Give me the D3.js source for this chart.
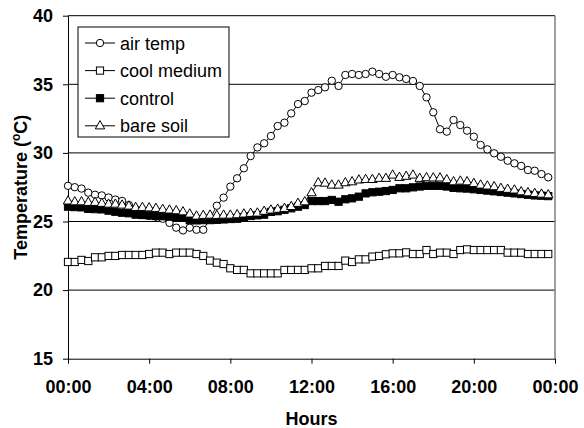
<!DOCTYPE html>
<html>
<head>
<meta charset="utf-8">
<script src="https://cdn.jsdelivr.net/npm/d3@7"></script>
<style>
  body { margin: 0; background: #fff; }
  svg { display: block; font-family: Arial, "Liberation Sans", sans-serif; }
</style>
</head>
<body>
<div id="grafico"></div>
<script>
var seriesNames = ['air temp', 'cool medium', 'control', 'bare soil'];
var stepMinutes = 20;

var airTemp = [27.6, 27.5, 27.4, 27.1, 26.95, 26.9, 26.75, 26.6, 26.5, 26.2,
  25.9, 25.5, 25.4, 25.35, 25.2, 24.9, 24.55, 24.35, 24.55, 24.4,
  24.4, 25.2, 26.15, 26.74, 27.54, 28.15, 28.88, 29.77, 30.4, 30.7,
  31.23, 31.96, 32.2, 32.88, 33.56, 33.78, 34.39, 34.58, 34.78, 35.26,
  34.88, 35.68, 35.75, 35.68, 35.75, 35.92, 35.75, 35.55, 35.68, 35.51,
  35.39, 35.24, 34.88, 34.05, 32.96, 31.72, 31.55, 32.4, 32.03, 31.62,
  31.18, 30.58, 30.26, 29.97, 29.72, 29.43, 29.24, 29.05, 28.75, 28.7,
  28.46, 28.22];

var coolMedium = [22.05, 22.05, 22.2, 22.12, 22.39, 22.39, 22.49, 22.49, 22.56, 22.56,
  22.56, 22.56, 22.63, 22.73, 22.73, 22.63, 22.73, 22.73, 22.73, 22.63,
  22.49, 22.15, 22.0, 21.9, 21.59, 21.47, 21.47, 21.22, 21.22, 21.22,
  21.22, 21.22, 21.47, 21.47, 21.47, 21.47, 21.59, 21.59, 21.76, 21.76,
  21.76, 22.15, 22.05, 22.24, 22.24, 22.44, 22.49, 22.61, 22.68, 22.68,
  22.75, 22.63, 22.63, 22.92, 22.63, 22.73, 22.73, 22.63, 22.92, 22.97,
  22.92, 22.92, 22.92, 22.92, 22.92, 22.73, 22.73, 22.73, 22.63, 22.63,
  22.63, 22.63];

var control = [26.08, 26.05, 26.03, 25.92, 25.9, 25.88, 25.79, 25.71, 25.64, 25.6,
  25.5, 25.47, 25.45, 25.4, 25.38, 25.35, 25.3, 25.28, 25.1, 25.08,
  25.1, 25.1, 25.12, 25.15, 25.18, 25.2, 25.3, 25.4, 25.45, 25.5,
  25.7, 25.75, 25.85, 25.96, 26.08, 26.2, 26.49, 26.49, 26.49, 26.57,
  26.44, 26.62, 26.69, 26.81, 27.05, 27.13, 27.17, 27.22, 27.3, 27.42,
  27.42, 27.49, 27.55, 27.6, 27.6, 27.6, 27.55, 27.45, 27.42, 27.4,
  27.35, 27.3, 27.25, 27.2, 27.15, 27.1, 27.05, 27.0, 26.95, 26.9,
  26.88, 26.85];

var bareSoil = [26.5, 26.44, 26.44, 26.4, 26.4, 26.33, 26.27, 26.27, 26.2, 26.13,
  26.03, 26.03, 26.0, 25.96, 25.89, 25.84, 25.79, 25.71, 25.55, 25.4,
  25.45, 25.47, 25.45, 25.47, 25.47, 25.5, 25.55, 25.6, 25.62, 25.75,
  25.84, 25.9, 25.96, 26.1, 26.33, 26.44, 27.1, 27.83, 27.8, 27.66,
  27.66, 27.83, 27.9, 28.03, 28.07, 28.07, 28.15, 28.15, 28.39, 28.22,
  28.3, 28.39, 28.15, 28.2, 28.18, 28.18, 28.05, 27.9, 27.95, 27.9,
  27.78, 27.66, 27.59, 27.54, 27.42, 27.35, 27.3, 27.17, 27.1, 27.05,
  27.0, 26.95];

var xTickHours = [0, 4, 8, 12, 16, 20, 24];
var xTickLabels = ['00:00', '04:00', '08:00', '12:00', '16:00', '20:00', '00:00'];
var yTicks = [15, 20, 25, 30, 35, 40];
var yGrid = [20, 25, 30, 35];

var svgWidth = 584;
var svgHeight = 428;
var margin = { top: 15.7, right: 29, bottom: 69.3, left: 68 };
var chartWidth = svgWidth - margin.left - margin.right;
var chartHeight = svgHeight - margin.top - margin.bottom;

var svg = d3.select("#grafico")
  .append("svg")
  .attr("width", svgWidth)
  .attr("height", svgHeight);

var xScale = d3.scaleLinear().domain([0, 24]).range([0, chartWidth]);
var yScale = d3.scaleLinear().domain([15, 40]).range([chartHeight, 0]);

var chart = svg.append("g")
  .attr("transform", "translate(" + margin.left + "," + margin.top + ")");

// grid lines
chart.selectAll(".grid")
  .data(yGrid)
  .enter()
  .append("line")
  .attr("x1", 0)
  .attr("x2", chartWidth)
  .attr("y1", d => yScale(d))
  .attr("y2", d => yScale(d))
  .attr("stroke", "#000")
  .attr("stroke-width", 1);

// top and right border
chart.append("line")
  .attr("x1", 0).attr("x2", chartWidth)
  .attr("y1", yScale(40)).attr("y2", yScale(40))
  .attr("stroke", "#000");
chart.append("line")
  .attr("x1", chartWidth).attr("x2", chartWidth)
  .attr("y1", 0).attr("y2", chartHeight)
  .attr("stroke", "#808080")
  .attr("stroke-width", 1.5);

var xAxis = d3.axisBottom(xScale)
  .tickValues(xTickHours)
  .tickFormat((d, i) => xTickLabels[i])
  .tickSizeInner(5)
  .tickSizeOuter(0)
  .tickPadding(17);

var yAxis = d3.axisLeft(yScale)
  .tickValues(yTicks)
  .tickSizeInner(5)
  .tickSizeOuter(0)
  .tickPadding(10);

chart.append("g")
  .attr("class", "x axis")
  .attr("transform", "translate(0," + chartHeight + ")")
  .call(xAxis);

chart.append("g")
  .attr("class", "y axis")
  .call(yAxis);

chart.selectAll(".axis path, .axis line").attr("stroke", "#000");
chart.selectAll(".axis text")
  .attr("fill", "#000")
  .style("font-size", "18px")
  .style("font-weight", "bold");

// axis titles
svg.append("text")
  .attr("x", margin.left + chartWidth / 2)
  .attr("y", 425)
  .attr("text-anchor", "middle")
  .style("font-size", "18px")
  .style("font-weight", "bold")
  .text("Hours");

var yTitle = svg.append("text")
  .attr("transform", "translate(27," + (margin.top + chartHeight / 2) + ") rotate(-90)")
  .attr("text-anchor", "middle")
  .style("font-size", "18px")
  .style("font-weight", "bold");
yTitle.append("tspan").text("Temperature (");
yTitle.append("tspan").attr("dy", -7).style("font-size", "12px").text("o");
yTitle.append("tspan").attr("dy", 7).text("C)");

// series
var series = [
  { name: seriesNames[0], values: airTemp, shape: "circle", fill: "#fff" },
  { name: seriesNames[1], values: coolMedium, shape: "square", fill: "#fff" },
  { name: seriesNames[2], values: control, shape: "square", fill: "#000" },
  { name: seriesNames[3], values: bareSoil, shape: "triangle", fill: "#fff" }
];

var hourAt = i => i * stepMinutes / 60;

var line = d3.line()
  .x((d, i) => xScale(hourAt(i)))
  .y(d => yScale(d));

function drawMarker(sel, shape, fill) {
  if (shape === "circle") {
    sel.append("circle").attr("r", 3.7)
      .attr("fill", fill).attr("stroke", "#000").attr("stroke-width", 1);
  } else if (shape === "square") {
    sel.append("rect").attr("x", -3.6).attr("y", -3.6)
      .attr("width", 7.2).attr("height", 7.2)
      .attr("fill", fill).attr("stroke", "#000").attr("stroke-width", 1);
  } else {
    sel.append("path").attr("d", "M0,-5.2L4.7,3.1L-4.7,3.1Z")
      .attr("fill", fill).attr("stroke", "#000").attr("stroke-width", 1);
  }
}

series.forEach(function (s) {
  var g = chart.append("g");
  g.append("path")
    .datum(s.values)
    .attr("d", line)
    .attr("fill", "none")
    .attr("stroke", "#000")
    .attr("stroke-width", 1);
  g.selectAll(".pt")
    .data(s.values)
    .enter()
    .append("g")
    .attr("transform", (d, i) => "translate(" + xScale(hourAt(i)) + "," + yScale(d) + ")")
    .each(function () { drawMarker(d3.select(this), s.shape, s.fill); });
});

// legend
var legend = svg.append("g").attr("transform", "translate(78,27)");
legend.append("rect")
  .attr("width", 151).attr("height", 110)
  .attr("fill", "#fff").attr("stroke", "#000").attr("stroke-width", 1);

var item = legend.selectAll(".item")
  .data(series)
  .enter()
  .append("g")
  .attr("transform", (d, i) => "translate(0," + (16 + i * 27.6) + ")");
item.append("line")
  .attr("x1", 7).attr("x2", 37)
  .attr("stroke", "#000");
item.each(function (d) {
  var m = d3.select(this).append("g").attr("transform", "translate(22,0)");
  drawMarker(m, d.shape, d.fill);
});
item.append("text")
  .attr("x", 42).attr("y", 6.5)
  .style("font-size", "18px")
  .text(d => d.name);
</script>
</body>
</html>
